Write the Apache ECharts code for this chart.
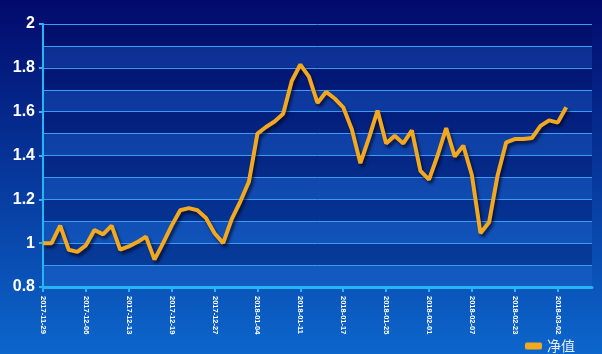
<!DOCTYPE html>
<html>
<head>
<meta charset="utf-8">
<script src="https://cdn.jsdelivr.net/npm/echarts@6/dist/echarts.min.js"></script>
<style>
  html, body { margin: 0; padding: 0; }
  #main { width: 602px; height: 354px; }
</style>
</head>
<body>
<div id="main"></div>
<script>
var dates = [
  '2017-11-29', '2017-11-30', '2017-12-01', '2017-12-04', '2017-12-05',
  '2017-12-06', '2017-12-07', '2017-12-08', '2017-12-11', '2017-12-12',
  '2017-12-13', '2017-12-14', '2017-12-15', '2017-12-17', '2017-12-18',
  '2017-12-19', '2017-12-20', '2017-12-21', '2017-12-22', '2017-12-26',
  '2017-12-27', '2017-12-28', '2017-12-29', '2018-01-02', '2018-01-03',
  '2018-01-04', '2018-01-05', '2018-01-08', '2018-01-09', '2018-01-10',
  '2018-01-11', '2018-01-12', '2018-01-14', '2018-01-15', '2018-01-16',
  '2018-01-17', '2018-01-18', '2018-01-19', '2018-01-22', '2018-01-23',
  '2018-01-25', '2018-01-26', '2018-01-29', '2018-01-30', '2018-01-31',
  '2018-02-01', '2018-02-02', '2018-02-04', '2018-02-05', '2018-02-06',
  '2018-02-07', '2018-02-08', '2018-02-09', '2018-02-12', '2018-02-22',
  '2018-02-23', '2018-02-26', '2018-02-27', '2018-02-28', '2018-03-01',
  '2018-03-02', '2018-03-05', '2018-03-06', '2018-03-07', '2018-03-08'
];

// 净值 (last few categories have no data yet)
var netValue = [
  1.0, 1.0, 1.08, 0.97, 0.96, 0.99, 1.06, 1.04, 1.08, 0.97,
  0.985, 1.005, 1.03, 0.925, 1.0, 1.08, 1.15, 1.16, 1.15, 1.115,
  1.045, 1.0, 1.11, 1.19, 1.28, 1.50, 1.53, 1.555, 1.59, 1.74,
  1.815, 1.76, 1.64, 1.69, 1.66, 1.62, 1.52, 1.365, 1.48, 1.605,
  1.455, 1.49, 1.455, 1.515, 1.33, 1.29, 1.40, 1.525, 1.395, 1.445,
  1.31, 1.045, 1.095, 1.31, 1.46, 1.475, 1.475, 1.48, 1.535, 1.56,
  1.55, 1.62, null, null, null
];

var chart = echarts.init(document.getElementById('main'));

var axisBlue = '#27b4f5';
var gridBlue = '#3d9cf0';

var option = {
  backgroundColor: new echarts.graphic.LinearGradient(0, 0, 0, 1, [
    { offset: 0, color: '#020a6c' },
    { offset: 1, color: '#0c66cc' }
  ]),
  animation: false,
  grid: {
    left: 43,
    right: 10,
    top: 24,
    bottom: 67
  },
  legend: {
    right: 22,
    top: 334,
    itemWidth: 17,
    itemHeight: 7,
    itemGap: 10,
    icon: 'roundRect',
    textStyle: {
      color: '#e6ecf7',
      fontSize: 14,
      fontFamily: 'Noto Sans CJK SC'
    },
    data: ['净值']
  },
  xAxis: {
    type: 'category',
    boundaryGap: false,
    data: dates,
    axisLine: { lineStyle: { color: axisBlue, width: 3 } },
    axisTick: { interval: 4, length: 5, lineStyle: { color: axisBlue, width: 2 } },
    axisLabel: {
      interval: 4,
      rotate: -90,
      margin: 9,
      color: '#ffffff',
      fontSize: 7.5,
      fontWeight: 'bold',
      fontFamily: 'Liberation Sans'
    },
    splitLine: { show: false }
  },
  yAxis: [{
    type: 'value',
    min: 0.8,
    max: 2,
    interval: 0.2,
    axisLine: { show: true, lineStyle: { color: axisBlue, width: 2 } },
    axisTick: { show: true, length: 4, lineStyle: { color: axisBlue, width: 2 } },
    axisLabel: {
      margin: 8,
      color: '#ffffff',
      fontSize: 16,
      fontWeight: 'bold',
      fontFamily: 'Liberation Sans'
    },
    splitLine: { show: false }
  }, {
    type: 'value',
    min: 0.8,
    max: 2,
    interval: 0.1,
    axisLine: { show: false },
    axisTick: { show: false },
    axisLabel: { show: false },
    splitLine: { show: true, lineStyle: { color: gridBlue, width: 1 } },
    splitArea: {
      show: true,
      areaStyle: { color: ['rgba(40,110,220,0.28)', 'rgba(0,10,90,0.28)'] }
    }
  }],
  series: [{
    name: '净值',
    type: 'line',
    yAxisIndex: 0,
    data: netValue,
    symbol: 'none',
    connectNulls: false,
    itemStyle: { color: '#f2a91f' },
    lineStyle: {
      color: '#f2a91f',
      width: 4,
      shadowColor: 'rgba(0,0,20,0.6)',
      shadowBlur: 3,
      shadowOffsetX: 2,
      shadowOffsetY: 3
    }
  }]
};

chart.setOption(option);
</script>
</body>
</html>
